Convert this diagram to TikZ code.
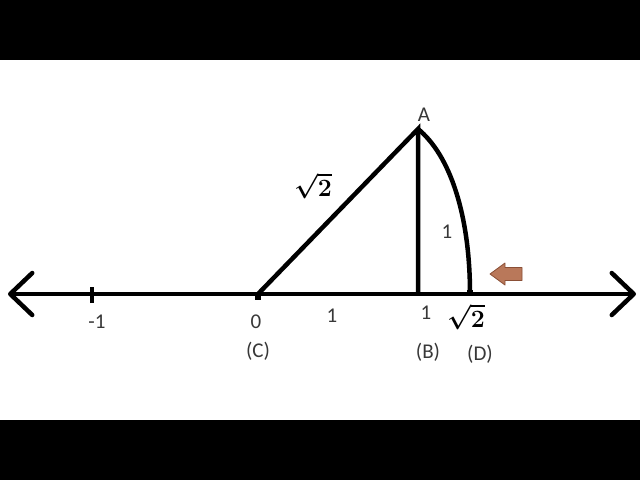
\documentclass[tikz,border=0pt]{standalone}
\usepackage{fontspec}
\setmainfont{Carlito}
\usepackage{amsmath}
\usetikzlibrary{arrows.meta}

\definecolor{brownfill}{HTML}{B9785A}
\definecolor{brownedge}{HTML}{8A4F36}

\tikzset{
  thick line/.style={line width=4.5pt},
  tag/.style={font=\fontsize{21}{24}\selectfont, text=black!78, inner sep=0pt},
  root/.style={font=\fontsize{25}{28}\selectfont, inner sep=0pt}
}

\begin{document}
\begin{tikzpicture}[x=1pt, y=-1pt]
  % Fix the page size and draw the black bands
  \useasboundingbox (0,0) rectangle (640,480);
  \fill[white] (0,0) rectangle (640,480);
  \fill[black] (0,0) rectangle (640,60);
  \fill[black] (0,420) rectangle (640,480);

  % Points on the number line
  \coordinate (leftend) at (8,294);
  \coordinate (rightend) at (636,294);
  \coordinate (minusone) at (92,294);
  \coordinate (C) at (258,294);
  \coordinate (B) at (418,294);
  \coordinate (D) at (470,294);
  \coordinate (A) at (418,129);

  % Draw the number line with open arrow heads at both ends
  \draw[thick line, {Straight Barb[round, length=22pt, width=42pt, line width=4.5pt]}-{Straight Barb[round, length=22pt, width=42pt, line width=4.5pt]}]
    (leftend) -- (rightend);

  % Draw the tick for -1
  \draw[line width=4pt] ([yshift=-9pt]minusone) -- ([yshift=7pt]minusone);

  % Draw the triangle sides
  \draw[thick line, line join=miter] (C) -- (A) -- (B);

  % Draw the curved arc from A down to D
  \draw[thick line] (A) .. controls (450,155) and (470,215) .. (D);

  % Small marks at C and D
  \fill ([xshift=-3pt, yshift=-6pt]C) rectangle ([xshift=3pt]C);
  \fill ([xshift=-3pt, yshift=4pt]D) rectangle ([xshift=3pt]D);

  % Brown arrow pointing at D
  \coordinate (pointer) at (490,274);
  \filldraw[fill=brownfill, draw=brownedge, line width=0.8pt, line join=round]
    (pointer) -- ++(15,-11) -- ++(0,4.5) -- ++(17,0) -- ++(0,13)
    -- ++(-17,0) -- ++(0,4.5) -- cycle;

  % Labels
  \node[tag] (labA) at (424,115) {A};
  \node[root] (labhyp) at (313,186) {$\boldsymbol{\sqrt{2}}$};
  \node[tag] (labarc) at (447,232) {1};
  \node[tag] (labminus) at (97,322) {-1};
  \node[tag] (labzero) at (256,322) {0};
  \node[tag] (labCB) at (332,316) {1};
  \node[tag] (labone) at (426,313) {1};
  \node[root] (labroot) at (466,317) {$\boldsymbol{\sqrt{2}}$};
  \node[tag] (labC) at (258,351) {(C)};
  \node[tag] (labB) at (428,352) {(B)};
  \node[tag] (labD) at (480,354) {(D)};
\end{tikzpicture}
\end{document}
